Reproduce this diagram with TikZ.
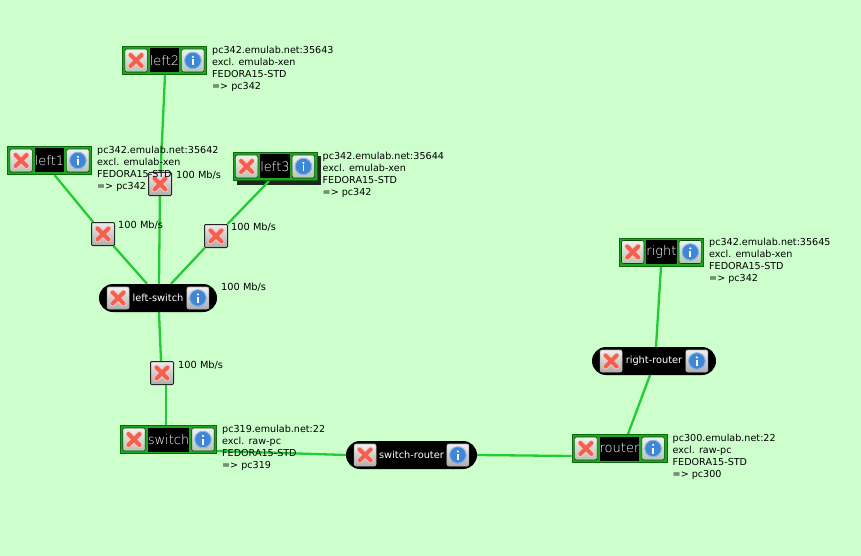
\documentclass[tikz,border=0pt]{standalone}
\usepackage{fontspec}
\setmainfont{DejaVu Sans}
\newfontfamily\thinfont{DejaVu Sans ExtraLight}
\usetikzlibrary{shapes.misc,calc}
\pgfdeclarelayer{backdrop}\pgfdeclarelayer{links}
\pgfsetlayers{backdrop,links,main}
\definecolor{bgc}{HTML}{CCFFCC}
\definecolor{linkc}{HTML}{22CC33}
\definecolor{framec}{HTML}{1FA51F}
\definecolor{framed}{HTML}{0B6B0B}
\definecolor{btop}{HTML}{EEF4EE}
\definecolor{bbot}{HTML}{B4C4B4}
\definecolor{xred}{HTML}{F4604F}
\definecolor{iblue}{HTML}{3F86D6}
\tikzset{
 frame/.style={draw=framed,fill=framec,line width=1pt,inner sep=0,minimum height=28pt},
 lab/.style={fill=black,text=white,inner sep=0,minimum height=24pt,font=\thinfont\fontsize{13}{14}\selectfont},
 pill/.style={rounded rectangle,fill=black,text=white,inner sep=0,minimum height=28pt,font=\fontsize{9.8}{11}\selectfont},
 btn/.style={draw=black!70!green,line width=.6pt,rounded corners=2pt,inner sep=0,minimum width=22.5pt,minimum height=23pt,top color=btop,bottom color=bbot},
 pbtn/.style={draw=gray!60,line width=.6pt,rounded corners=2pt,inner sep=0,minimum width=22pt,minimum height=22pt,top color=white!90!gray,bottom color=gray!65},
 lbtn/.style={draw=black!85,line width=1pt,rounded corners=1pt,inner sep=0,minimum width=23pt,minimum height=23pt,top color=white!85!gray,bottom color=gray!65},
 info/.style={font=\fontsize{9.6}{12}\selectfont,anchor=north west,align=left,inner sep=0,text=black},
 rate/.style={font=\fontsize{9.8}{11}\selectfont,anchor=west,inner sep=0,text=black},
 wire/.style={draw=linkc,line width=2.3pt},
}
\newcommand{\xmark}[1]{%
 \draw[white!65!xred,line width=5.8pt,line cap=round] ($(#1)+(-5.5,-5.5)$)--($(#1)+(5.5,5.5)$) ($(#1)+(-5.5,5.5)$)--($(#1)+(5.5,-5.5)$);
 \draw[xred,line width=4pt,line cap=round] ($(#1)+(-5.5,-5.5)$)--($(#1)+(5.5,5.5)$) ($(#1)+(-5.5,5.5)$)--($(#1)+(5.5,-5.5)$);}
\newcommand{\imark}[1]{%
 \fill[iblue] (#1) circle (8.5pt);
 \draw[white!40!iblue,line width=.8pt] (#1) circle (8.2pt);
 \fill[white] ($(#1)+(-.9,-1)$) rectangle ($(#1)+(.9,5)$);
 \fill[white] ($(#1)+(0,-3.6)$) circle (1.2pt);}
\newcommand{\pcbox}[7]{%
 \node[frame,minimum width=#4pt] (#1) at (#2,#3) {};
 \node[lab,minimum width=#5pt] (#1-l) at (#2,#3) {#6};
 \node[btn,anchor=east] (#1-x) at ($(#1-l.west)+(-2,0)$) {};
 \node[btn,anchor=west] (#1-i) at ($(#1-l.east)+(2,0)$) {};
 \xmark{#1-x}\imark{#1-i}
 \node[info] (#1-t) at ($(#1.north east)+(5,0.5)$) {#7};}
\newcommand{\pillbox}[5]{%
 \node[pill,minimum width=#4pt] (#1) at (#2,#3) {#5};
 \node[pbtn,anchor=west] (#1-x) at ($(#1.west)+(8,0)$) {};
 \node[pbtn,anchor=east] (#1-i) at ($(#1.east)+(-8,0)$) {};
 \xmark{#1-x}\imark{#1-i}}
\newcommand{\linkbtn}[3]{%
 \node[lbtn] (#1) at (#2,#3) {};
 \xmark{#1}}
\newcommand{\tl}[2]{#1\\ #2\\ FEDORA15-STD\\ => \ignorespaces}
\begin{document}
\begin{tikzpicture}[x=1pt,y=-1pt]
\useasboundingbox (0,0) rectangle (861,556);
\begin{pgfonlayer}{backdrop}
\fill[bgc] (0,0) rectangle (861,556);
\fill[black,opacity=.85] (237,156) rectangle (321,184.5);
\end{pgfonlayer}
\linkbtn{la}{103}{234}
\linkbtn{lb}{160}{184}
\linkbtn{lc}{216}{236}
\linkbtn{ld}{162}{373}
\pcbox{left2}{164.5}{60.5}{84}{27}{left2}{\tl{pc342.emulab.net:35643}{excl. emulab-xen}pc342}
\pcbox{left1}{49.5}{160.5}{84}{27}{left1}{\tl{pc342.emulab.net:35642}{excl. emulab-xen}pc342}
\pcbox{left3}{275}{166.5}{84}{27}{left3}{\tl{pc342.emulab.net:35644}{excl. emulab-xen}pc342}
\pcbox{right}{661.5}{252}{84}{27}{right}{\tl{pc342.emulab.net:35645}{excl. emulab-xen}pc342}
\pcbox{switch}{168.5}{439.5}{96}{39}{switch}{\tl{pc319.emulab.net:22}{excl. raw-pc}pc319}
\pcbox{router}{619.5}{448.5}{95}{37}{router}{\tl{pc300.emulab.net:22}{excl. raw-pc}pc300}
\pillbox{leftsw}{158}{298}{118}{left-switch}
\pillbox{swrt}{411.5}{455}{131}{switch-router}
\pillbox{rightrt}{654}{361}{124}{right-router}
\node[rate] (ra) at (118,225.5) {100 Mb/s};
\node[rate] (rb) at (176,175.5) {100 Mb/s};
\node[rate] (rc) at (231,227.5) {100 Mb/s};
\node[rate] (rd) at (221,287.5) {100 Mb/s};
\node[rate] (re) at (178,365.5) {100 Mb/s};
\begin{pgfonlayer}{links}
\path[wire] ([xshift=5pt]left1.south) -- (la);
\path[wire] (la) -- ([xshift=-11pt]leftsw.north);
\path[wire] ([xshift=.5pt]left2.south) -- (lb);
\path[wire] (lb) -- ([xshift=1pt]leftsw.north);
\path[wire] ([xshift=-6pt]left3.south) -- (lc);
\path[wire] (lc) -- ([xshift=13pt]leftsw.north);
\path[wire] ([xshift=1pt]leftsw.south) -- ([xshift=-1pt]ld.north);
\path[wire] ([xshift=4pt]ld.south) -- ([xshift=-2.5pt]switch.north);
\path[wire] ([yshift=-11.5pt]switch.east) -- (swrt.west);
\path[wire] (swrt.east) -- ([yshift=-7.5pt]router.west);
\path[wire] ([xshift=8.5pt]router.north) -- ([xshift=-4pt]rightrt.south);
\path[wire] ([xshift=2pt]rightrt.north) -- ([xshift=-.5pt]right.south);
\end{pgfonlayer}
\end{tikzpicture}
\end{document}
